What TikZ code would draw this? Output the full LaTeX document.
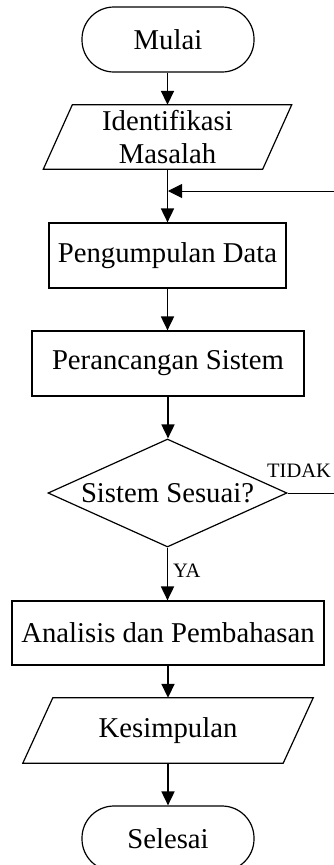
\documentclass[tikz,border=0pt]{standalone}
\usepackage{fontspec}
\setmainfont{Liberation Serif}
\usetikzlibrary{shapes.geometric,arrows.meta}
\begin{document}
\begin{tikzpicture}[x=1pt,y=-1pt,
  every node/.style={font=\fontsize{28.7pt}{33pt}\selectfont, inner sep=0pt},
  term/.style={draw, line width=1.2pt, rectangle, rounded corners=32pt, minimum width=172pt, minimum height=65pt},
  proc/.style={draw, line width=1.2pt, rectangle, minimum height=65pt},
  io/.style={align=center, minimum height=64pt},
  para/.style={line width=1.2pt},
  dec/.style={draw, line width=1.2pt, diamond, aspect=2.2, minimum width=239pt, minimum height=108pt},
  lab/.style={font=\fontsize{20.5pt}{24pt}\selectfont},
  flow/.style={line width=1.8pt, -{Triangle[length=14pt,width=13pt]}},
  back/.style={line width=1pt, -{Triangle[length=14pt,width=14pt]}}
]
\useasboundingbox (0,0) rectangle (334,865);
\node[term] (mulai) at (168,39.5) {Mulai};
\node[io, minimum width=219pt] (ident) at (167.5,137) {Identifikasi\\Masalah};
\draw[para] ([xshift=14.5pt]ident.north west) -- ([xshift=14.5pt]ident.north east) -- ([xshift=-14.5pt]ident.south east) -- ([xshift=-14.5pt]ident.south west) -- cycle;
\node[proc, minimum width=237pt] (kumpul) at (167.5,255.5) {Pengumpulan Data};
\node[proc, minimum width=272pt] (rancang) at (168,363.5) {Perancangan Sistem};
\node[dec] (sesuai) at (167.5,493) {Sistem Sesuai?};
\node[proc, minimum width=312pt, minimum height=64pt] (analisis) at (168,633) {Analisis dan Pembahasan};
\node[io, minimum width=260pt, minimum height=65pt] (simpul) at (168,730.5) {Kesimpulan};
\draw[para] ([xshift=15pt]simpul.north west) -- ([xshift=15pt]simpul.north east) -- ([xshift=-15pt]simpul.south east) -- ([xshift=-15pt]simpul.south west) -- cycle;
\node[term] (selesai) at (168,838.5) {Selesai};

\coordinate (join) at (168,191);
\coordinate (r1) at (336,493);
\coordinate (r2) at (336,191);

\draw[flow] (mulai.south -| ident.north) -- (ident.north);
\draw[flow] (ident.south) -- (ident.south |- kumpul.north);
\draw[flow] (kumpul.south) -- (kumpul.south |- rancang.north);
\draw[flow] (rancang.south) -- (rancang.south |- sesuai.north);
\draw[flow] (sesuai.south) -- (sesuai.south |- analisis.north);
\draw[flow] (analisis.south) -- (analisis.south |- simpul.north);
\draw[flow] (simpul.south) -- (simpul.south |- selesai.north);
\draw[back] (sesuai.east) -- (r1) -- (r2) -- (join);

\node[lab, anchor=base west] (tidak) at (267,477) {TIDAK};
\node[lab, anchor=base west] (ya) at (173,577) {YA};
\end{tikzpicture}
\end{document}
